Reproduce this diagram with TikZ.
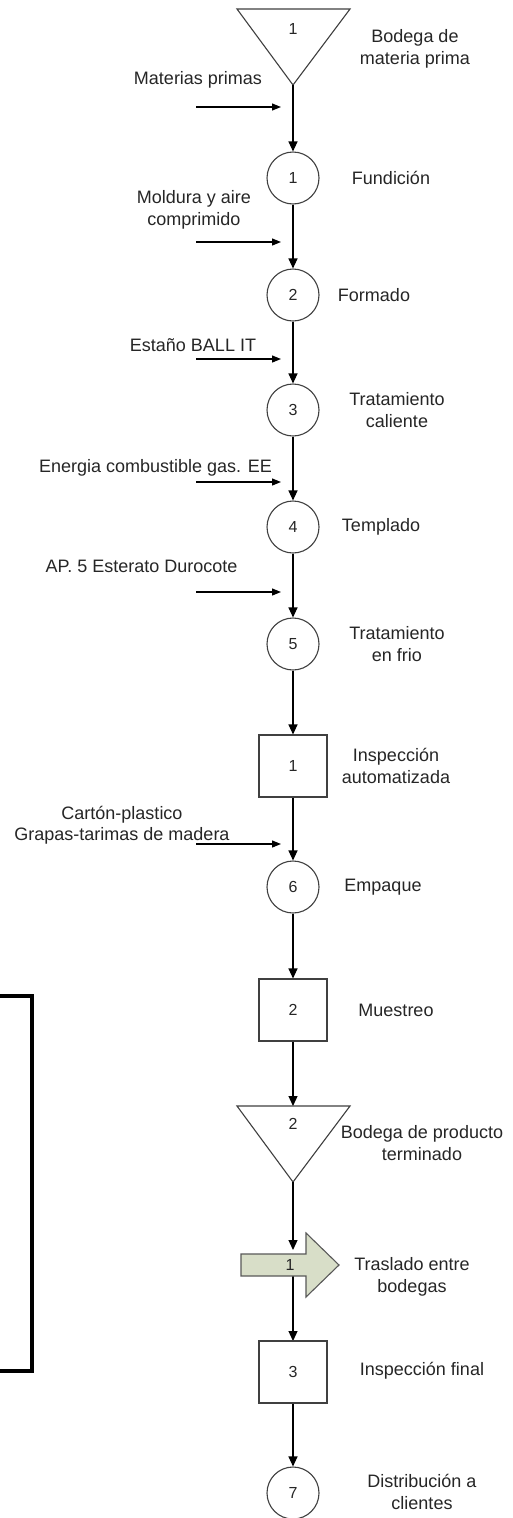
\documentclass[tikz,border=0pt]{standalone}
\usepackage{fontspec}
\setmainfont{Liberation Sans}
\usetikzlibrary{arrows.meta}
\tikzset{
  lbl/.style={font=\fontsize{18}{21.5}\selectfont, align=center, text=black!85, inner sep=0pt},
  num/.style={font=\fontsize{16}{18}\selectfont, text=black!85},
  opcircle/.style={circle, draw=black!75, line width=1.1pt, minimum size=52pt, inner sep=0pt, fill=white, num},
  inspbox/.style={rectangle, draw=black!75, line width=1.1pt, minimum width=68pt, minimum height=62pt, inner sep=0pt, fill=white, num},
  storetri/.style={draw=black!75, line width=1.1pt, fill=white},
  flow/.style={-{Triangle[length=10pt,width=9pt]}, line width=1.2pt},
  feed/.style={-{Triangle[length=9pt,width=7pt]}, line width=1.2pt},
}
\begin{document}
\begin{tikzpicture}[x=1pt,y=-1pt]
\useasboundingbox[fill=white] (0,0) rectangle (513,1518);

% storage: raw material
\draw[storetri] (237,9) -- (350,9) -- (293,85) -- cycle;
\coordinate (t1) at (293,85);
\node[num] (t1n) at (293,29) {1};

% operations and inspections along the main line
\node[opcircle] (c1) at (293,178) {1};
\node[opcircle] (c2) at (293,295) {2};
\node[opcircle] (c3) at (293,410) {3};
\node[opcircle] (c4) at (293,527) {4};
\node[opcircle] (c5) at (293,644) {5};
\node[inspbox]  (s1) at (293,766) {1};
\node[opcircle] (c6) at (293,887) {6};
\node[inspbox]  (s2) at (293,1010) {2};

% storage: finished product
\draw[storetri] (237,1106) -- (350,1106) -- (293,1182) -- cycle;
\coordinate (t2top) at (293,1106);
\coordinate (t2) at (293,1182);
\node[num] (t2n) at (293,1124) {2};

% transport between warehouses
\coordinate (trtop) at (293,1250);
\coordinate (trbot) at (293,1276);
\draw[flow] (t2) -- (trtop);
\draw[flow] (trbot) -- (293,1341);
\draw[draw=black!65, line width=1.1pt, fill={rgb,255:red,216;green,222;blue,200}]
  (241,1254) -- (306,1254) -- (306,1233) -- (339,1265) -- (306,1297) -- (306,1276) -- (241,1276) -- cycle;
\node[num] (tr) at (290,1265) {1};

\node[inspbox]  (s3) at (293,1372) {3};
\node[opcircle] (c7) at (293,1493) {7};

% main flow
\draw[flow] (t1) -- (c1);
\draw[flow] (c1) -- (c2);
\draw[flow] (c2) -- (c3);
\draw[flow] (c3) -- (c4);
\draw[flow] (c4) -- (c5);
\draw[flow] (c5) -- (s1);
\draw[flow] (s1) -- (c6);
\draw[flow] (c6) -- (s2);
\draw[flow] (s2) -- (t2top);
\draw[flow] (s3) -- (c7);

% material inputs
\coordinate (i1a) at (196,107); \coordinate (i1b) at (281,107);
\coordinate (i2a) at (196,242); \coordinate (i2b) at (281,242);
\coordinate (i3a) at (196,359); \coordinate (i3b) at (281,359);
\coordinate (i4a) at (196,482); \coordinate (i4b) at (281,482);
\coordinate (i5a) at (196,592); \coordinate (i5b) at (281,592);
\coordinate (i6a) at (196,844); \coordinate (i6b) at (281,844);
\foreach \k in {1,...,6} \draw[feed] (i\k a) -- (i\k b);

\node[lbl] (l_in1) at (198,80)  {Materias primas};
\node[lbl] (l_in2) at (194,210) {Moldura y aire\\comprimido};
\node[lbl] (l_in3) at (193,345) {Estaño BALL IT};
\node[lbl] (l_in4) at (155.5,468) {Energia combustible gas. EE};
\node[lbl] (l_in5) at (141.5,566) {AP. 5 Esterato Durocote};
\node[lbl] (l_in6) at (122,825) {Cartón-plastico\\Grapas-tarimas de madera};

% step names
\node[lbl] (l_t1) at (415,49)   {Bodega de\\materia prima};
\node[lbl] (l_c1) at (391,178)  {Fundición};
\node[lbl] (l_c2) at (374,295)  {Formado};
\node[lbl] (l_c3) at (397,410)  {Tratamiento\\caliente};
\node[lbl] (l_c4) at (381,527)  {Templado};
\node[lbl] (l_c5) at (397,644)  {Tratamiento\\en frio};
\node[lbl] (l_s1) at (396,766)  {Inspección\\automatizada};
\node[lbl] (l_c6) at (383,887)  {Empaque};
\node[lbl] (l_s2) at (396,1010) {Muestreo};
\node[lbl] (l_t2) at (422,1143) {Bodega de producto\\terminado};
\node[lbl] (l_tr) at (412,1277) {Traslado entre\\bodegas};
\node[lbl] (l_s3) at (422,1371) {Inspección final};
\node[lbl] (l_c7) at (422,1492) {Distribución a\\clientes};

% heavy bracket at the left edge
\draw[line width=3.5pt] (-2,996) -- (32,996) -- (32,1371) -- (-2,1371);
\end{tikzpicture}
\end{document}
